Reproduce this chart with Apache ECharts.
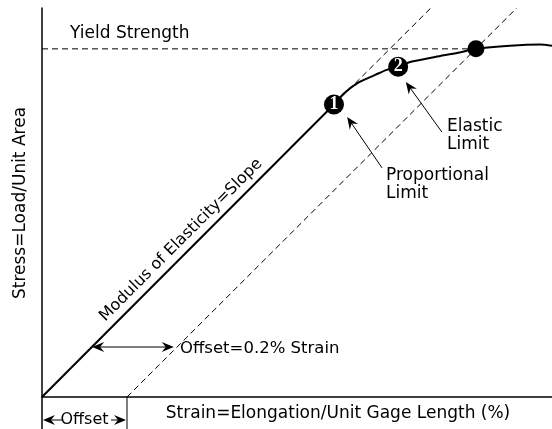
<!DOCTYPE html>
<html>
<head>
<meta charset="utf-8">
<script src="https://cdn.jsdelivr.net/npm/echarts@6/dist/echarts.min.js"></script>
<style>
  html, body { margin: 0; padding: 0; background: #fff; }
  #chart { width: 552px; height: 429px; }
</style>
</head>
<body>
<div id="chart"></div>
<script>
// Stress–strain diagram. Strain in %, stress in % of the full vertical scale.

// Linear (elastic) part of the curve
const elasticStrain = [0, 0.687];
const elasticStress = [0, 75.2];

// Curved part beyond the proportional limit
const plasticStrain = [0.68, 0.687, 0.709, 0.744, 0.784, 0.811, 0.838, 0.866, 0.925, 0.979, 1.021, 1.101, 1.172, 1.2];
const plasticStress = [74.4, 75.2, 77.9, 80.8, 82.8, 84.1, 84.9, 86.1, 87.4, 88.5, 89.5, 90.3, 90.6, 90.3];

// Construction lines
const slopeExtStrain = [0.687, 0.915];
const slopeExtStress = [75.2, 100];
const offsetStrain = [0.2, 1.117];
const offsetStress = [0, 100];
const yieldStrain = [0, 1.021];
const yieldStress = [89.5, 89.5];

// Marked points: proportional limit, elastic limit, yield point
const pointNames = ['1', '2', ''];
const pointStrain = [0.687, 0.838, 1.021];
const pointStress = [75.2, 84.9, 89.5];

const FONT = '"DejaVu Sans", sans-serif';
const pairs = (xs, ys) => xs.map((x, i) => [x, ys[i]]);

const chart = echarts.init(document.getElementById('chart'), null, { renderer: 'canvas' });

const solid = { color: '#000', width: 2 };
const dashed = { color: '#000', width: 1, type: [6, 4] };

chart.setOption({
  animation: false,
  backgroundColor: '#fff',
  grid: { left: 42, right: 0, top: 8, bottom: 32 },
  xAxis: {
    type: 'value', min: 0, max: 1.2,
    axisLine: { lineStyle: { color: '#000', width: 1.5 } },
    axisTick: { show: false }, axisLabel: { show: false }, splitLine: { show: false }
  },
  yAxis: {
    type: 'value', min: 0, max: 100,
    axisLine: { lineStyle: { color: '#000', width: 1.5 } },
    axisTick: { show: false }, axisLabel: { show: false }, splitLine: { show: false }
  },
  series: [
    { type: 'line', data: pairs(yieldStrain, yieldStress), symbol: 'none', lineStyle: dashed, silent: true },
    { type: 'line', data: pairs(slopeExtStrain, slopeExtStress), symbol: 'none', lineStyle: dashed, silent: true },
    { type: 'line', data: pairs(offsetStrain, offsetStress), symbol: 'none', lineStyle: dashed, silent: true },
    { type: 'line', data: pairs(elasticStrain, elasticStress), symbol: 'none', lineStyle: solid, silent: true },
    { type: 'line', data: pairs(plasticStrain, plasticStress), symbol: 'none', smooth: 0.3, lineStyle: solid, silent: true },
    {
      type: 'scatter', silent: true, z: 5,
      data: pointNames.map((n, i) => ({ name: n, value: [pointStrain[i], pointStress[i]], symbolSize: n ? 20 : 17 })),
      itemStyle: { color: '#000', opacity: 1 },
      label: {
        show: true, position: 'inside', formatter: p => p.name,
        color: '#fff', fontFamily: '"Liberation Serif", serif', fontWeight: 'bold', fontSize: 18
      }
    }
  ]
});

// Annotation arrows and text, placed through the axes' own scales
const px = (x, y) => chart.convertToPixel({ gridIndex: 0 }, [x, y]);

function arrowHead(tip, from) {
  const dx = tip[0] - from[0], dy = tip[1] - from[1];
  const len = Math.hypot(dx, dy) || 1;
  const ux = dx / len, uy = dy / len, nx = -uy, ny = ux;
  const L = 12, W = 5, N = 8;
  return {
    type: 'polygon', silent: true,
    shape: { points: [
      tip,
      [tip[0] - ux * L + nx * W, tip[1] - uy * L + ny * W],
      [tip[0] - ux * N, tip[1] - uy * N],
      [tip[0] - ux * L - nx * W, tip[1] - uy * L - ny * W]
    ] },
    style: { fill: '#000' }
  };
}

function arrow(a, b, both) {
  const dx = b[0] - a[0], dy = b[1] - a[1];
  const len = Math.hypot(dx, dy) || 1;
  const ux = dx / len, uy = dy / len;
  const start = both ? [a[0] + ux * 7, a[1] + uy * 7] : a;
  const end = [b[0] - ux * 7, b[1] - uy * 7];
  const items = [{
    type: 'line', silent: true,
    shape: { x1: start[0], y1: start[1], x2: end[0], y2: end[1] },
    style: { stroke: '#000', lineWidth: 1 }
  }, arrowHead(b, a)];
  if (both) items.push(arrowHead(a, b));
  return items;
}

function text(str, x, y, opts) {
  return Object.assign({
    type: 'text', x: x, y: y, silent: true,
    style: Object.assign({
      text: str, fill: '#000', font: '17px ' + FONT,
      align: 'left', verticalAlign: 'middle', lineHeight: 18
    }, (opts && opts.style) || {})
  }, (opts && opts.el) || {});
}

const origin = px(0, 0);
const offsetFoot = px(0.2, 0);
const dimY = 420;
const H = chart.getHeight();

const graphic = [].concat(
  // proportional limit pointer
  arrow(px(0.8, 58.9), px(0.718, 72.0)),
  // elastic limit pointer
  arrow(px(0.941, 68.1), px(0.856, 81.0)),
  // 0.2 % offset
  arrow(px(0.118, 12.85), px(0.31, 12.85), true),
  // offset dimension under the strain axis
  [
    { type: 'line', silent: true, shape: { x1: origin[0], y1: origin[1], x2: origin[0], y2: H }, style: { stroke: '#000', lineWidth: 1.5 } },
    { type: 'line', silent: true, shape: { x1: offsetFoot[0], y1: offsetFoot[1], x2: offsetFoot[0], y2: H }, style: { stroke: '#000', lineWidth: 1 } }
  ],
  arrow([62, dimY], [origin[0] + 1, dimY]),
  arrow([111, dimY], [offsetFoot[0] - 1, dimY]),
  [
    text('Yield Strength', 70, 34),
    text('Proportional\nLimit', 386, 184.5),
    text('Elastic\nLimit', 447, 136),
    text('Offset=0.2% Strain', 180, 349, { style: { font: '16.5px ' + FONT } }),
    text('Offset', (origin[0] + offsetFoot[0]) / 2, dimY, { style: { font: '16px ' + FONT, align: 'center' } }),
    text('Strain=Elongation/Unit Gage Length (%)', 338, 414, { style: { align: 'center' } }),
    text('Stress=Load/Unit Area', 20.5, 203, { style: { align: 'center' }, el: { rotation: Math.PI / 2 } }),
    text('Modulus of Elasticity=Slope', 181, 240, { style: { font: '16px ' + FONT, align: 'center' }, el: { rotation: Math.PI / 4 } })
  ]
);

chart.setOption({ graphic: graphic });
</script>
</body>
</html>
